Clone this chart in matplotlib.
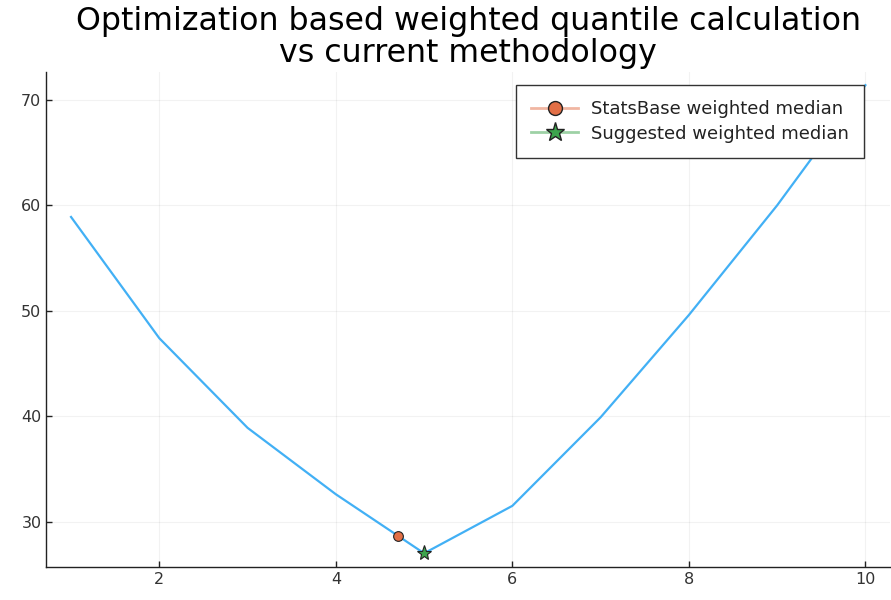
import matplotlib.pyplot as plt
from matplotlib.lines import Line2D
from matplotlib.colors import to_rgba

# values
x = [1, 2, 3, 4, 5, 6, 7, 8, 9, 10]
loss = [58.9, 47.4, 38.9, 32.6, 27.0, 31.5, 39.9, 49.6, 60.0, 71.4]
statsbase_x, statsbase_y = [4.7], [28.6]
suggested_x, suggested_y = [5.0], [27.05]
labels = ["StatsBase weighted median", "Suggested weighted median"]

blue = "#42B0F5"
orange = "#E26F46"
green = "#3DA44D"

fig = plt.figure(figsize=(8.91, 6.0), dpi=100)
ax = fig.add_axes([0.052, 0.055, 0.947, 0.825])

ax.plot(x, loss, color=blue, lw=1.6, zorder=2)
ax.plot(statsbase_x, statsbase_y, ls="none", marker="o", ms=7, mfc=orange,
        mec="#222222", mew=0.8, zorder=3)
ax.plot(suggested_x, suggested_y, ls="none", marker="*", ms=11, mfc=green,
        mec="#222222", mew=0.8, zorder=3)

ax.set_xlim(0.72, 10.28)
ax.set_ylim(25.7, 72.65)
ax.set_xticks([2, 4, 6, 8, 10])
ax.set_yticks([30, 40, 50, 60, 70])
ax.grid(True, color="#000000", alpha=0.05, lw=0.8)
ax.set_axisbelow(True)
for s in ["top", "right"]:
    ax.spines[s].set_visible(False)
for s in ["left", "bottom"]:
    ax.spines[s].set_color("#222222")
    ax.spines[s].set_linewidth(1.0)
ax.tick_params(direction="in", length=4, width=1, colors="#222222",
               labelsize=11.5, labelcolor="#333333")

ax.set_title("Optimization based weighted quantile calculation\nvs current methodology",
             fontsize=22.8, linespacing=1.05, pad=7)

# legend: faded line, solid marker centred on it
handles = [
    Line2D([], [], color=to_rgba(orange, 0.5), lw=2, marker="o", ms=10,
           mfc=orange, mec="#222222", mew=1.0),
    Line2D([], [], color=to_rgba(green, 0.5), lw=2, marker="*", ms=14,
           mfc=green, mec="#222222", mew=1.0),
]
leg = ax.legend(handles, labels,
                loc="upper right", bbox_to_anchor=(0.969, 0.974), fontsize=13,
                fancybox=False, framealpha=1, edgecolor="#333333",
                handlelength=2.6, borderpad=0.85, labelspacing=0.35,
                handletextpad=0.7, borderaxespad=0)
leg.get_frame().set_linewidth(1.0)
for t in leg.get_texts():
    t.set_color("#222222")

fig.savefig("out.png", dpi=100)
